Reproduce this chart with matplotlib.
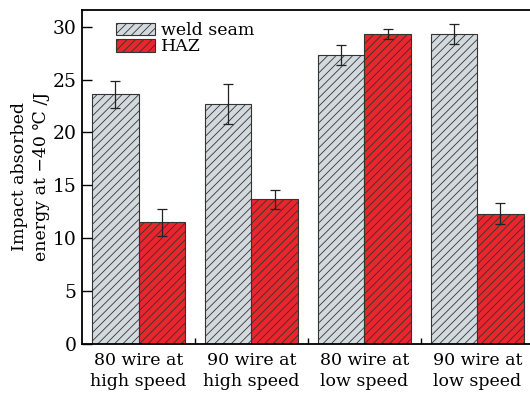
import numpy as np
import matplotlib.pyplot as plt
from matplotlib.ticker import FixedLocator

plt.rcParams['font.family'] = ['DejaVu Serif', 'DejaVu Sans']
plt.rcParams['hatch.color'] = '#333333'
plt.rcParams['hatch.linewidth'] = 0.6

# Values
categories = ['80 wire at\nhigh speed', '90 wire at\nhigh speed',
              '80 wire at\nlow speed', '90 wire at\nlow speed']
weld_seam = [23.6, 22.7, 27.3, 29.3]
weld_err = [1.25, 1.9, 0.95, 0.95]
haz = [11.5, 13.7, 29.3, 12.3]
haz_err = [1.3, 0.9, 0.5, 1.0]

fig = plt.figure(figsize=(5.30, 3.94), dpi=100)
ax = fig.add_axes([0.155, 0.127, 0.852, 0.848])

x = np.arange(len(categories))
w = 0.41
err_kw = dict(ecolor='#222222', elinewidth=0.9, capsize=3.5, capthick=0.9)
ax.bar(x - w / 2, weld_seam, w, yerr=weld_err, color='#d3dadd', edgecolor='#333333',
       linewidth=0.8, hatch='////', label='weld seam', error_kw=err_kw)
ax.bar(x + w / 2, haz, w, yerr=haz_err, color='#e8262b', edgecolor='#333333',
       linewidth=0.8, hatch='////', label='HAZ', error_kw=err_kw)

ax.set_xlim(-0.5, len(categories) - 0.5)
ax.set_ylim(0, 31.6)
ax.set_yticks([0, 5, 10, 15, 20, 25, 30])
ax.set_xticks(x)
ax.set_xticklabels(categories, linespacing=1.3)
ax.xaxis.set_minor_locator(FixedLocator(x[:-1] + 0.5))
ax.tick_params(axis='x', which='major', length=0, pad=6, labelsize=12.5)
ax.tick_params(axis='x', which='minor', direction='in', length=4, width=1)
ax.tick_params(axis='y', direction='in', length=7, width=1, labelsize=13.5, pad=4)
for s in ax.spines.values():
    s.set_linewidth(1.3)

ax.set_ylabel('Impact absorbed\nenergy at \u221240 \u2103 /J', fontsize=12.5,
              linespacing=1.35, labelpad=2)

ax.legend(loc='upper left', bbox_to_anchor=(0.045, 1.005), frameon=False,
          fontsize=12.5, handlelength=2.2, handleheight=0.75, handletextpad=0.35,
          labelspacing=-0.05, borderaxespad=0.4)

fig.savefig('out.png', dpi=100)
